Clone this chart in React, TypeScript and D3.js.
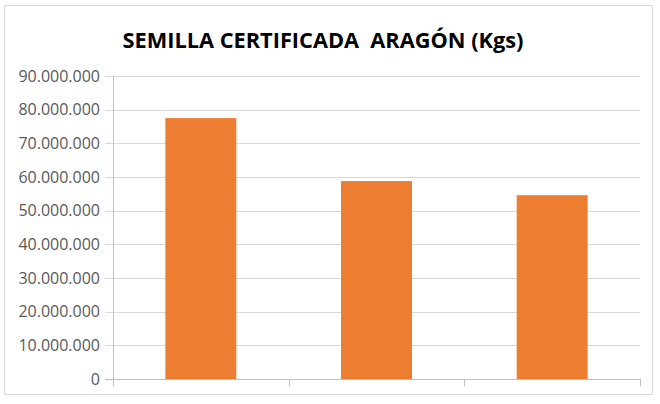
import React from "react";
import * as d3 from "d3";

const categories = ["A", "B", "C"];
const values = [77500000, 58800000, 54600000];
const yTicks = [0, 10000000, 20000000, 30000000, 40000000, 50000000, 60000000, 70000000, 80000000, 90000000];
const title = "SEMILLA CERTIFICADA  ARAGÓN (Kgs)";

const fmt = (v: number) => (v === 0 ? "0" : d3.format(",")(v).replace(/,/g, "."));

export default function App() {
  const W = 660, H = 404;
  const left = 113, right = 640, top = 76, bottom = 379;
  const y = d3.scaleLinear().domain([0, 90000000]).range([bottom, top]);
  const x = d3.scaleBand().domain(categories).range([left, right]).paddingInner(0.596).paddingOuter(0.298);
  const gridColor = "#d9d9d9";
  const axisColor = "#bfbfbf";
  const textColor = "#595959";
  const font = "'Open Sans', 'Liberation Sans', sans-serif";
  return (
    <svg width={W} height={H} style={{ position: "absolute", left: 0, top: 0 }}>
      <rect x={0} y={0} width={W} height={H} fill="#fff" />
      <rect x={4.5} y={5.5} width={648} height={389} fill="#fff" stroke="#d9d9d9" strokeWidth={1} />
      <text x={323} y={47.5} textAnchor="middle" fontFamily={font} fontWeight="bold" fontSize={21} fill="#000" style={{ whiteSpace: "pre" }} textLength={401} lengthAdjust="spacingAndGlyphs">{title}</text>
      {yTicks.map((t) => (
        <g key={t}>
          <line x1={left - 8} x2={right} y1={Math.round(y(t)) + 0.5} y2={Math.round(y(t)) + 0.5} stroke={t === 0 ? axisColor : gridColor} strokeWidth={1} />
          <text x={100} y={y(t)} dy="0.36em" textAnchor="end" fontFamily={font} fontSize={16} fill={textColor}>{fmt(t)}</text>
        </g>
      ))}
      <line x1={left + 0.5} x2={left + 0.5} y1={top} y2={bottom} stroke={axisColor} />
      {[...categories.map((c) => x(c)! - (x.step() * x.paddingInner()) / 2), right].map((px, i) => (
        <line key={i} x1={Math.round(px) + 0.5} x2={Math.round(px) + 0.5} y1={bottom} y2={bottom + 7} stroke={axisColor} />
      ))}
      {categories.map((c, i) => (
        <rect key={c} x={x(c)} y={y(values[i])} width={x.bandwidth()} height={bottom - y(values[i])} fill="#ed7d31" />
      ))}
    </svg>
  );
}
